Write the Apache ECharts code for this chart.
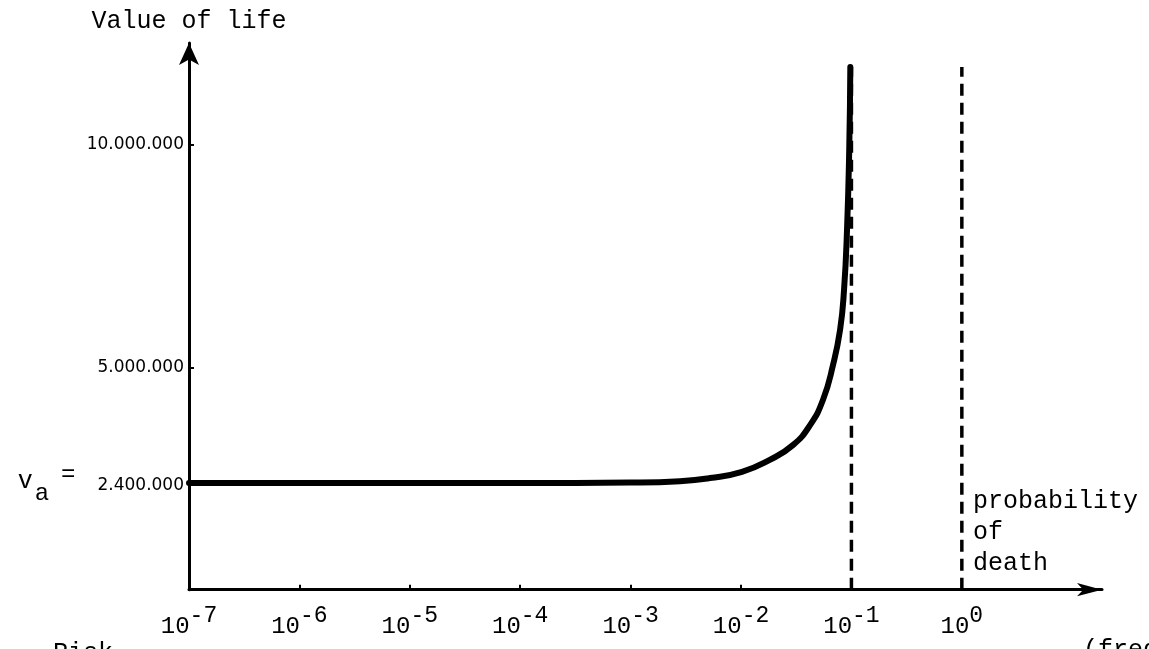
<!DOCTYPE html>
<html>
<head>
<meta charset="utf-8">
<script src="https://cdn.jsdelivr.net/npm/echarts@6/dist/echarts.min.js"></script>
<style>html,body{margin:0;padding:0;background:#fff;}#c{width:1149px;height:649px;}</style>
</head>
<body>
<div id="c"></div>
<script>
// Probability of death (x, log scale) and value of life (y)
var probability = [1e-7, 1e-6, 1e-5, 1e-4, 1e-3, 0.0028, 0.00525, 0.0102, 0.0182, 0.0295, 0.0422, 0.0553, 0.0681, 0.0789, 0.0857, 0.0912, 0.0955, 0.0977];
var valueOfLife = [2400000, 2400000, 2400000, 2400000, 2410000, 2440000, 2510000, 2650000, 2920000, 3250000, 3700000, 4270000, 5050000, 5840000, 6740000, 8090000, 9890000, 11750000];
var asymptoteX = [0.1, 1];
var asymptoteTop = 11750000;
var xTicks = [1e-7, 1e-6, 1e-5, 1e-4, 1e-3, 1e-2, 1e-1, 1];
var yTicks = [2400000, 5000000, 10000000];
var vaValue = 2400000;

var mono = 'Liberation Mono';
var chart = echarts.init(document.getElementById('c'));

function fmtNum(v) {
  return String(v).replace(/\B(?=(\d{3})+(?!\d))/g, '.');
}

var series = [{
  type: 'line',
  data: probability.map(function (p, i) { return [p, valueOfLife[i]]; }),
  showSymbol: false,
  smooth: 0.5,
  lineStyle: { color: '#000', width: 6, cap: 'round', join: 'round' },
  z: 5
}];
asymptoteX.forEach(function (x) {
  series.push({
    type: 'line',
    data: [[x, 0], [x, asymptoteTop]],
    showSymbol: false,
    lineStyle: { color: '#000', width: 3.5, type: [12, 7] },
    z: 4
  });
});

chart.setOption({
  animation: false,
  backgroundColor: '#fff',
  grid: { left: 189, right: 47, top: 43, bottom: 59.3 },
  xAxis: {
    type: 'log',
    logBase: 10,
    min: 1e-7,
    max: 18.6,
    splitLine: { show: false },
    axisLine: { show: true, symbol: ['none', 'arrow'], symbolSize: [10, 25], lineStyle: { color: '#000', width: 3 } },
    axisTick: { show: true, inside: true, length: 5, customValues: xTicks, lineStyle: { color: '#000', width: 2 } },
    axisLabel: {
      customValues: xTicks,
      margin: 25,
      formatter: function (v) {
        var e = Math.round(Math.log(v) / Math.LN10);
        return '{b|10}{s|' + e + '}';
      },
      rich: {
        b: { fontFamily: mono, fontSize: 24, color: '#000', lineHeight: 24, verticalAlign: 'bottom' },
        s: { fontFamily: mono, fontSize: 23, color: '#000', lineHeight: 24, verticalAlign: 'bottom', padding: [0, 0, 11, 0] }
      }
    }
  },
  yAxis: {
    type: 'value',
    min: 0,
    max: 12290000,
    name: 'Value of life',
    nameLocation: 'end',
    nameGap: 9,
    nameTextStyle: { fontFamily: mono, fontSize: 25, color: '#000', align: 'center' },
    splitLine: { show: false },
    axisLine: { show: true, symbol: ['none', 'arrow'], symbolSize: [15, 22], lineStyle: { color: '#000', width: 3 } },
    axisTick: { show: true, inside: true, length: 5, customValues: yTicks, lineStyle: { color: '#000', width: 2 } },
    axisLabel: {
      customValues: yTicks,
      margin: 5,
      formatter: function (v) {
        if (v === vaValue) {
          return '{sp| }{v|v}{a|a}{eq|=}{n|' + fmtNum(v) + '}';
        }
        return '{m|' + fmtNum(v) + '}';
      },
      rich: {
        m: { fontFamily: 'DejaVu Sans', fontSize: 17, color: '#000', lineHeight: 24 },
        sp: { fontSize: 1, lineHeight: 46, width: 0 },
        n: { fontFamily: 'DejaVu Sans', fontSize: 17, color: '#000', lineHeight: 24, verticalAlign: 'bottom', padding: [0, 0, 12, 0] },
        v: { fontFamily: mono, fontSize: 25, color: '#000', lineHeight: 24, verticalAlign: 'bottom', padding: [0, 0, 12, 0] },
        a: { fontFamily: mono, fontSize: 24, color: '#000', lineHeight: 24, verticalAlign: 'bottom', padding: [0, 0, 0, 2] },
        eq: { fontFamily: mono, fontSize: 24, color: '#000', lineHeight: 24, verticalAlign: 'bottom', padding: [0, 22, 19, 12] }
      }
    }
  },
  graphic: [
    { type: 'text', left: 53, top: 641, style: { text: 'Risk', font: '25px "Liberation Mono"', fill: '#000' } },
    { type: 'text', left: 1083, top: 638, style: { text: '(frequency', font: '25px "Liberation Mono"', fill: '#000' } },
    { type: 'text', left: 973, top: 486, style: { text: 'probability\nof\ndeath', font: '25px "Liberation Mono"', fill: '#000', lineHeight: 31 } }
  ],
  series: series
});
</script>
</body>
</html>
